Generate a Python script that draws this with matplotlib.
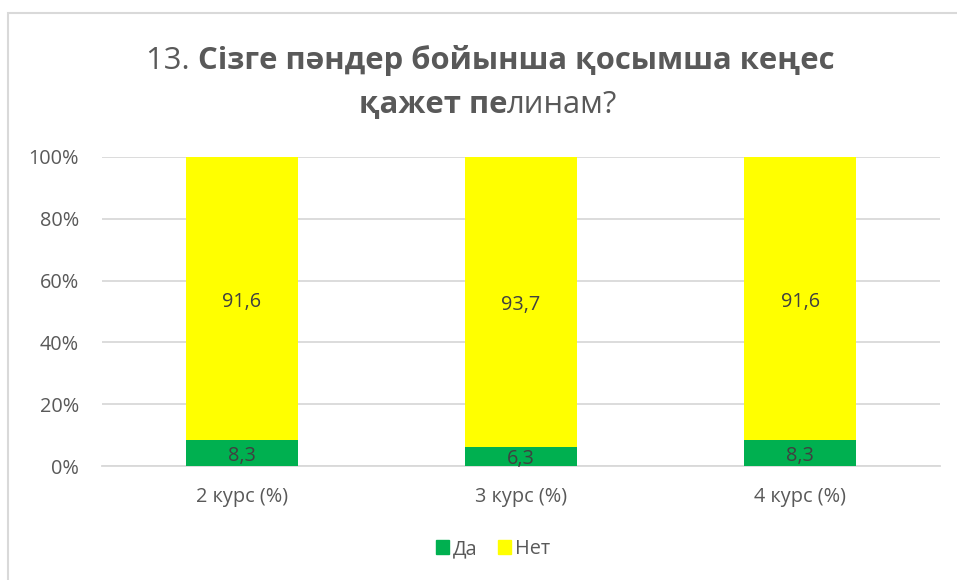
import numpy as np
import matplotlib as mpl
mpl.use('Agg')
import matplotlib.pyplot as plt
from matplotlib.patches import Rectangle

plt.rcParams['font.family'] = ['Open Sans', 'DejaVu Sans']

categories = ['2 курс (%)', '3 курс (%)', '4 курс (%)']
series_names = ['Да', 'Нет']
da_values = [8.3, 6.3, 8.3]
net_values = [91.6, 93.7, 91.6]
da_labels = ['8,3', '6,3', '8,3']
net_labels = ['91,6', '93,7', '91,6']
yticks = [0, 20, 40, 60, 80, 100]
title_line1 = [('13. ', 'normal'), ('Сізге пәндер бойынша қосымша кеңес', 'bold')]
title_line2 = [('қажет пе', 'bold'), ('линам?', 'normal')]

GREEN = '#00B050'
YELLOW = '#FFFF00'
TEXT = '#595959'
GRID = '#D9D9D9'
FS = 14.3


def draw_runs(fig, runs, xc, y, size, color):
    # measure each piece, then lay them out centred on xc (pixels)
    r = fig.canvas.get_renderer()
    pieces = []
    total = 0
    for s, w in runs:
        t = fig.text(0, y, s, fontsize=size, fontweight=w, color=color, va='baseline')
        bb = t.get_window_extent(renderer=r)
        pieces.append((t, bb.width))
        total += bb.width
    W = fig.bbox.width
    x = xc - total / 2
    for t, wd in pieces:
        t.set_x(x / W)
        x += wd


def main():
    fig = plt.figure(figsize=(9.57, 5.8), dpi=100)
    ax = fig.add_axes([102 / 957, 1 - 466 / 580, 838 / 957, 309 / 580])

    da = np.array(da_values)
    net = np.array(net_values)
    tot = da + net
    da_p = da / tot * 100
    net_p = net / tot * 100
    x = np.arange(len(categories))

    ax.bar(x, da_p, width=0.4, color=GREEN, zorder=3)
    ax.bar(x, net_p, width=0.4, bottom=da_p, color=YELLOW, zorder=3)

    for i in range(len(x)):
        ax.text(x[i], da_p[i] / 2 - 0.8, da_labels[i], ha='center', va='center',
                fontsize=FS, color='#404040', zorder=4)
        ax.text(x[i], da_p[i] + net_p[i] / 2 - 1, net_labels[i], ha='center', va='center',
                fontsize=FS, color='#404040', zorder=4)

    ax.set_xlim(-0.5, 2.5)
    ax.set_ylim(0, 100)
    ax.set_yticks(yticks)
    ax.set_yticklabels(['%d%%' % v for v in yticks])
    ax.set_xticks(x)
    ax.set_xticklabels(categories)
    ax.yaxis.grid(True, color=GRID, linewidth=1.3, zorder=0)
    ax.set_axisbelow(True)
    for s in ['top', 'right', 'left']:
        ax.spines[s].set_visible(False)
    ax.spines['bottom'].set_color(GRID)
    ax.spines['bottom'].set_linewidth(1.3)
    ax.tick_params(axis='y', length=0, pad=16.5, labelsize=FS, labelcolor=TEXT)
    ax.tick_params(axis='x', length=0, pad=15, labelsize=FS, labelcolor=TEXT)

    handles = [Rectangle((0, 0), 1, 1, color=GREEN), Rectangle((0, 0), 1, 1, color=YELLOW)]
    fig.legend(handles, series_names, loc='center', bbox_to_anchor=(493 / 957, 1 - 549 / 580),
               ncol=2, frameon=False, fontsize=FS, labelcolor=TEXT,
               handlelength=0.65, handleheight=0.65, handletextpad=0.2, columnspacing=1.0)

    # chart border (only left and top edges are visible in the reference)
    fig.patches.append(Rectangle((8 / 957, -0.1), 1.2, 1 - 13 / 580 + 0.1,
                                 transform=fig.transFigure, fill=False,
                                 edgecolor=GRID, linewidth=1.5))

    draw_runs(fig, title_line1, 490, 1 - 69 / 580, 22.3, TEXT)
    draw_runs(fig, title_line2, 488, 1 - 113 / 580, 22.3, TEXT)

    fig.savefig('out.png', dpi=100)


if __name__ == '__main__':
    main()
